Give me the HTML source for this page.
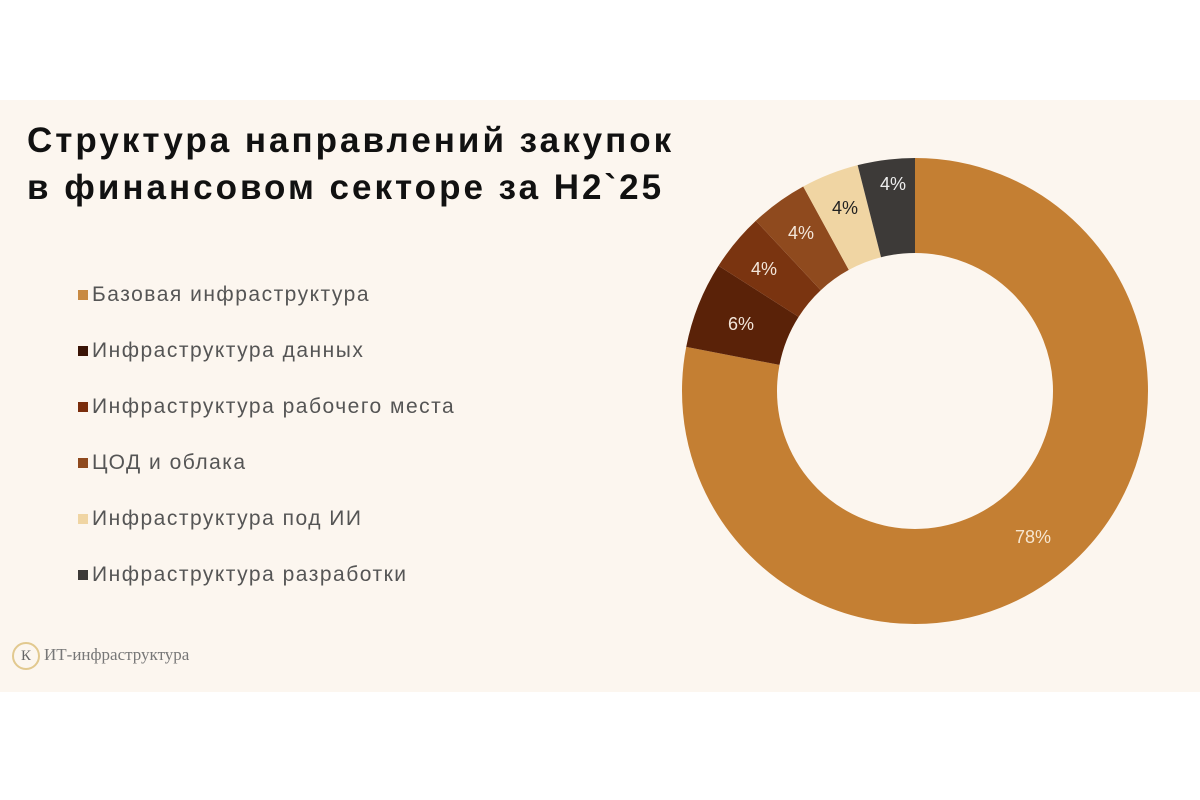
<!DOCTYPE html>
<html><head><meta charset="utf-8"><style>
body{margin:0;width:1200px;height:800px;background:#fff;position:relative;overflow:hidden;font-family:"Liberation Sans",sans-serif}
.panel{position:absolute;left:0;top:100px;width:1200px;height:592px;background:#fcf6ef}
.title{position:absolute;left:27px;top:117px;font-size:35px;font-weight:bold;line-height:47px;color:#111;letter-spacing:3px}
.leg{position:absolute;left:78px;font-size:21px;color:#555;letter-spacing:1.5px;line-height:24px}
.leg i{display:inline-block;width:10px;height:10px;margin-right:4px;vertical-align:1px}
.logo{position:absolute;left:12px;top:642px;font-family:"Liberation Serif",serif;color:#777;font-size:17px}
.logo span{display:inline-block;width:24px;height:24px;border:2px solid #e2c98f;border-radius:50%;text-align:center;line-height:24px;font-size:15px;margin-right:4px;color:#666}
</style></head><body>
<div class="panel"></div>
<div class="title">Структура направлений закупок<br>в финансовом секторе за H2`25</div>
<div class="leg" style="top:283px"><i style="background:#c88a43"></i>Базовая инфраструктура</div>
<div class="leg" style="top:339px"><i style="background:#3a1406"></i>Инфраструктура данных</div>
<div class="leg" style="top:395px"><i style="background:#7a2d0c"></i>Инфраструктура рабочего места</div>
<div class="leg" style="top:451px"><i style="background:#8f4a1e"></i>ЦОД и облака</div>
<div class="leg" style="top:507px"><i style="background:#f0d5a3"></i>Инфраструктура под ИИ</div>
<div class="leg" style="top:563px"><i style="background:#3d3a38"></i>Инфраструктура разработки</div>
<div class="logo"><span>К</span>ИТ-инфраструктура</div>
<svg width="1200" height="800" style="position:absolute;left:0;top:0">
<g transform="rotate(-90 915 391)" fill="none" stroke-width="95">
<circle cx="915" cy="391" r="185.5" stroke="#c47f33" stroke-dasharray="909.1 2000" stroke-dashoffset="0"/>
<circle cx="915" cy="391" r="185.5" stroke="#5a2208" stroke-dasharray="69.93 2000" stroke-dashoffset="-909.1"/>
<circle cx="915" cy="391" r="185.5" stroke="#7a3410" stroke-dasharray="46.62 2000" stroke-dashoffset="-979.03"/>
<circle cx="915" cy="391" r="185.5" stroke="#8f4a1e" stroke-dasharray="46.62 2000" stroke-dashoffset="-1025.65"/>
<circle cx="915" cy="391" r="185.5" stroke="#f0d5a3" stroke-dasharray="46.62 2000" stroke-dashoffset="-1072.27"/>
<circle cx="915" cy="391" r="185.5" stroke="#3d3a38" stroke-dasharray="46.62 2000" stroke-dashoffset="-1118.89"/>
</g>
<g font-family="Liberation Sans,sans-serif" font-size="18" text-anchor="middle">
<text x="1033" y="543" fill="#f6e6d0">78%</text>
<text x="741" y="330" fill="#f3e6da">6%</text>
<text x="764" y="275" fill="#f3e6da">4%</text>
<text x="801" y="239" fill="#f3e6da">4%</text>
<text x="845" y="214" fill="#222">4%</text>
<text x="893" y="190" fill="#eee">4%</text>
</g>
</svg>
</body></html>
